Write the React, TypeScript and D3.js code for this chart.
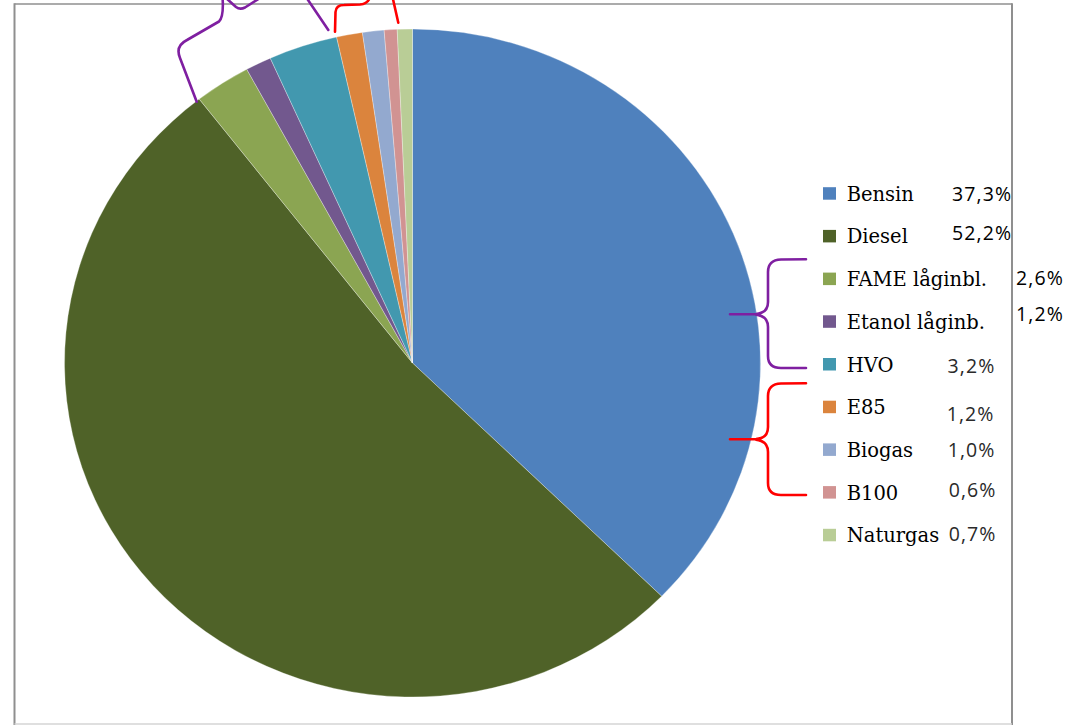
import React from "react";
import * as d3 from "d3";

const categories = ["Bensin", "Diesel", "FAME låginbl.", "Etanol låginb.", "HVO", "E85", "Biogas", "B100", "Naturgas"];
const values = [37.3, 52.2, 2.6, 1.2, 3.2, 1.2, 1.0, 0.6, 0.7];
const colors = ["#4F81BD", "#4F6228", "#8BA552", "#72588E", "#4298AF", "#DB843D", "#93A9CF", "#D19392", "#B9CD96"];

// layout (not data)
const W = 1069, H = 725;
const CX = 412.5, CY = 363, RY = 334, RX = 348;
const LEG_X = 823, LEG_Y0 = 200.7, LEG_STEP = 42.7;
const pctPos: [number, number][] = [
  [952, 201], [952, 240], [1016, 285], [1016, 320.7], [947.5, 373],
  [946.7, 421], [947.7, 457.3], [948.7, 496.7], [948.7, 540.7],
];
const pctColor = ["#000", "#000", "#000", "#000", "#2a2a2a", "#2a2a2a", "#2a2a2a", "#2a2a2a", "#2a2a2a"];

const fmt = (v: number) => v.toFixed(1).replace(".", ",") + "%";

const PURPLE = "#7F1FA1";
const RED = "#FF0000";

export default function App() {
  const pie = d3.pie<number>().sort(null).value((d) => d);
  const arcs = pie(values);
  const arc = d3.arc<d3.PieArcDatum<number>>().innerRadius(0).outerRadius(RY);
  const legendY = d3.scaleLinear().domain([0, 1]).range([LEG_Y0, LEG_Y0 + LEG_STEP]);

  return (
    <svg width={W} height={H} style={{ position: "absolute", left: 0, top: 0, background: "#fff" }}>
      <rect x={0} y={0} width={W} height={H} fill="#fff" />
      {/* frame */}
      <line x1={14.5} y1={4} x2={1012} y2={4} stroke="#8f8f8f" strokeWidth={1.6} />
      <line x1={14.5} y1={3.2} x2={14.5} y2={725} stroke="#8f8f8f" strokeWidth={2} />
      <line x1={1012} y1={3.2} x2={1012} y2={725} stroke="#8f8f8f" strokeWidth={2} />
      <line x1={14.5} y1={724} x2={1012} y2={724} stroke="#d4d4d4" strokeWidth={1.5} />

      {/* pie */}
      <g transform={`translate(${CX},${CY}) scale(${RX / RY},1)`}>
        {arcs.map((a, i) => (
          <path key={i} d={arc(a) || ""} fill={colors[i]} stroke="#ffffff" strokeOpacity={0.5} strokeWidth={0.6} vectorEffect="non-scaling-stroke" />
        ))}
      </g>

      {/* legend */}
      {categories.map((c, i) => {
        const y = legendY(i);
        return (
          <g key={c}>
            <rect x={LEG_X} y={y - 13.5} width={13} height={12.5} fill={colors[i]} />
            <text x={846.7} y={y} fontFamily="'DejaVu Serif', serif" fontSize={19.5} fill="#000">{c}</text>
          </g>
        );
      })}

      {/* percentages */}
      {values.map((v, i) => (
        <text key={i} x={pctPos[i][0]} y={pctPos[i][1]} fontFamily="'Open Sans', sans-serif" fontSize={19.5} letterSpacing={1.1} fill={pctColor[i]}>
          {fmt(v)}
        </text>
      ))}

      {/* braces at legend */}
      <g fill="none" strokeWidth={2.6} strokeLinecap="round" strokeLinejoin="round">
        <path stroke={PURPLE} d="M806,259.3 L781,259.5 Q768,260 768,272 L768,302 Q768,313 756,314 L730,314.3 M756,314.6 Q768,316 768,327 L768,356 Q768,368 781,368 L806,368" />
        <path stroke={RED} d="M806,383.3 L781,383.5 Q768,384 768,396 L768,427 Q768,438.5 756,439 L730,439.3 M756,439.6 Q768,441 768,452 L768,483 Q768,495 781,495 L806,495" />
        {/* braces at top of pie */}
        <path stroke={PURPLE} d="M196.7,101.7 L180,58 Q175,46 187,40 L219,21.5 Q224,17 222.5,-3" />
        <path stroke={PURPLE} d="M226,-2 L236,7 Q240,10 245,7.5 L260,-2" />
        <path stroke={PURPLE} d="M306,-3 L328.3,30" />
        <path stroke={RED} d="M335,31.7 L335.5,12 Q336,5 344,5 L360,4.5 Q368,4 370,-3" />
        <path stroke={RED} d="M392.5,-3 L398.3,22.7" />
      </g>
    </svg>
  );
}
